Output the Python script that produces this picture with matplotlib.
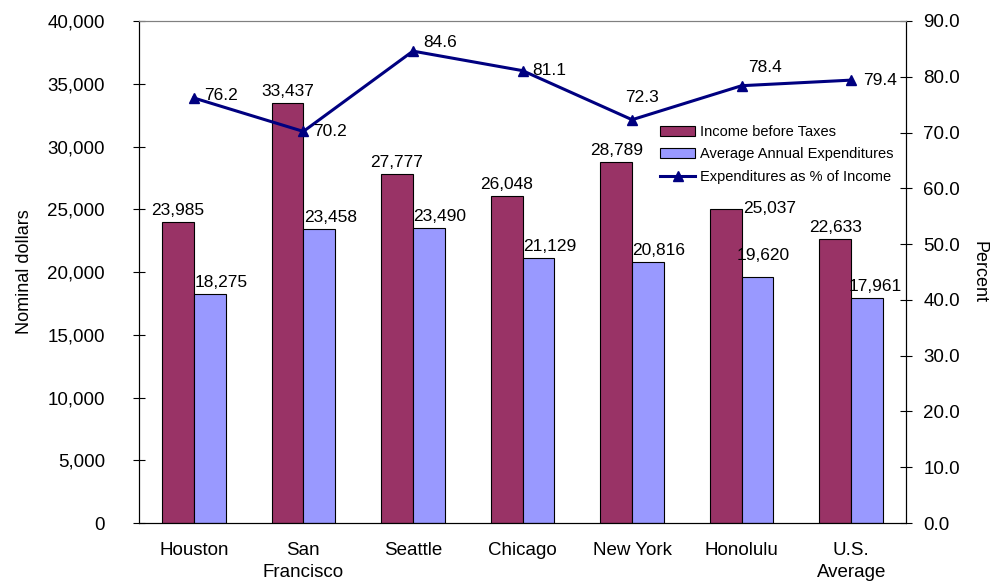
import matplotlib.pyplot as plt
import numpy as np

plt.rcParams['font.family'] = ['Liberation Sans', 'DejaVu Sans']

cities = ['Houston', 'San\nFrancisco', 'Seattle', 'Chicago', 'New York',
          'Honolulu', 'U.S.\nAverage']
income = [23985, 33437, 27777, 26048, 28789, 25037, 22633]
expend = [18275, 23458, 23490, 21129, 20816, 19620, 17961]
pct = [76.2, 70.2, 84.6, 81.1, 72.3, 78.4, 79.4]

# label nudges in pixels (dx, dy), as placed in the original chart
pct_off = [(10, 2), (10, 0), (10, 9), (10, 0), (-7, 22), (6, 18), (12, 0)]
exp_off = [(11, 4), (11, 4), (11, 4), (11, 4), (11, 4), (6, 14), (8, 4)]

fig = plt.figure(figsize=(10.03, 5.88), dpi=100)
ax = fig.add_axes([0.1386, 0.1105, 0.7647, 0.8538])
ax2 = ax.twinx()

x = np.arange(len(cities))
w = 0.29
b1 = ax.bar(x - w / 2, income, w, color='#993366', edgecolor='black',
            linewidth=0.8, label='Income before Taxes')
b2 = ax.bar(x + w / 2, expend, w, color='#9999FF', edgecolor='black',
            linewidth=0.8, label='Average Annual Expenditures')

for i, (xi, v) in enumerate(zip(x, income)):
    if i == 5:
        ax.annotate(f'{v:,}', (xi, v), xytext=(1, 0), textcoords='offset pixels',
                    ha='left', va='center', fontsize=12.5)
    else:
        ax.annotate(f'{v:,}', (xi - w / 2, v), xytext=(0, 4), textcoords='offset pixels',
                    ha='center', va='bottom', fontsize=12.5)
for (xi, v), (dx, dy) in zip(zip(x, expend), exp_off):
    ax.annotate(f'{v:,}', (xi + w / 2, v), xytext=(dx, dy), textcoords='offset pixels',
                ha='center', va='bottom', fontsize=12.5)

ln, = ax2.plot(x, pct, color='#000080', linewidth=2.2, marker='^', markersize=7,
               label='Expenditures as % of Income')
for (xi, v), (dx, dy) in zip(zip(x, pct), pct_off):
    ax2.annotate(f'{v:.1f}', (xi, v), xytext=(dx, dy), textcoords='offset pixels',
                 ha='left', va='center', fontsize=12.5)

ax.set_xlim(-0.5, 6.5)
ax.set_ylim(0, 40000)
ax2.set_ylim(0, 90)
ax.set_yticks(np.arange(0, 40001, 5000))
ax.set_yticklabels([f'{v:,}' for v in range(0, 40001, 5000)])
ax2.set_yticks(np.arange(0, 91, 10))
ax2.set_yticklabels([f'{v:.1f}' for v in range(0, 91, 10)])
ax.set_xticks(x)
ax.set_xticklabels(cities, linespacing=1.35)

ax.tick_params(axis='y', direction='inout', length=9, labelsize=13.5, pad=20)
ax2.tick_params(axis='y', direction='inout', length=9, labelsize=13.5, pad=8)
ax.tick_params(axis='x', length=0, labelsize=13.5, pad=14)

ax.set_ylabel('Nominal dollars', fontsize=13, labelpad=10)
ax2.set_ylabel('Percent', fontsize=13, rotation=270, labelpad=20)

for a in (ax, ax2):
    a.spines['top'].set_color('#808080')
    a.spines['bottom'].set_color('black')
    a.spines['left'].set_color('black')
    a.spines['right'].set_color('black')

ax.legend([b1, b2, ln], [b1.get_label(), b2.get_label(), ln.get_label()],
          loc='upper left', bbox_to_anchor=(0.672, 0.805), frameon=False,
          fontsize=10.5, handlelength=2.4, handleheight=0.7, labelspacing=0.6,
          borderaxespad=0, handletextpad=0.3)

fig.savefig('out.png', dpi=100)
